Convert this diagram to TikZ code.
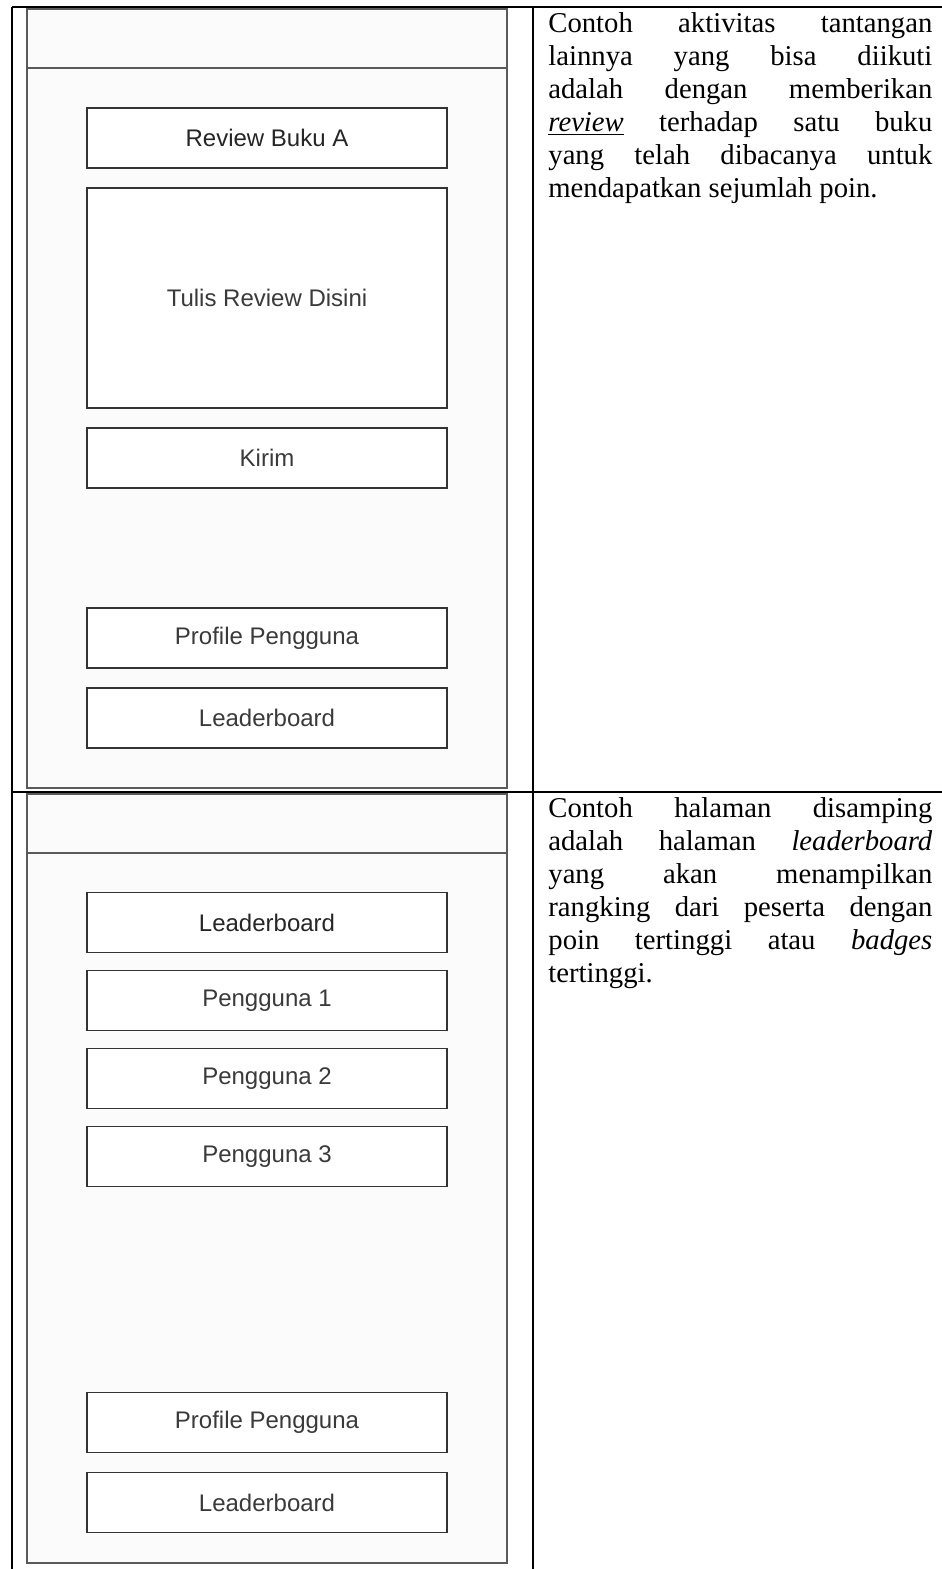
\documentclass[tikz,border=0pt]{standalone}
\usepackage{fontspec}
\setmainfont{Liberation Serif}
\newfontfamily\uifont{Liberation Sans}
\usetikzlibrary{positioning}

\definecolor{uiline}{HTML}{333333}
\definecolor{uitext}{HTML}{3A3A3A}
\definecolor{uiframe}{HTML}{5A5A5A}
\definecolor{uiback}{HTML}{FBFBFB}

\begin{document}
\begin{tikzpicture}[
x=0.5pt, y=-0.5pt,
node distance=10pt,
screen/.style={draw=uiframe, fill=uiback, line width=0.6pt},
uibox/.style={draw=uiline, fill=white, line width=0.8pt, minimum width=180pt, minimum height=30pt, inner sep=0pt, outer sep=0pt, font=\uifont\fontsize{12}{14}\selectfont, text=uitext},
uititle/.style={uibox, text=black!85},
rule/.style={line width=0.9pt},
desc/.style={anchor=base west, inner sep=0pt, text width=192pt, align=justify, font=\fontsize{14.35}{16.5}\selectfont,
  execute at begin node={\tolerance=9999 \hyphenpenalty=10000 }}
]
\useasboundingbox (0,0) rectangle (942,1569);

% table
\draw[rule] (12,7) -- (942,7);
\draw[rule] (12,792) -- (942,792);
\draw[rule] (12,7) -- (12,1569);
\draw[rule] (533,7) -- (533,1569);

% screen 1: review
\draw[screen] (27,9) rectangle (507,788);
\draw[uiframe, line width=0.6pt] (27,68) -- (507,68);
\node[uititle] (review) at (267,138) {Review Buku A};
\node[uibox, below=of review, minimum height=110pt] (tulis) {Tulis Review Disini};
\node[uibox, below=of tulis] (kirim) {Kirim};
\node[uibox, below=60pt of kirim] (profilA) {Profile Pengguna};
\node[uibox, below=of profilA] (leaderA) {Leaderboard};

% screen 2: leaderboard
\draw[screen] (27,794) rectangle (507,1563);
\draw[uiframe, line width=0.6pt] (27,853) -- (507,853);
\node[uititle] (board) at (267,922.5) {Leaderboard};
\node[uibox, below=9pt of board] (user1) {Pengguna 1};
\node[uibox, below=9pt of user1] (user2) {Pengguna 2};
\node[uibox, below=9pt of user2] (user3) {Pengguna 3};
\node[uibox, below=103pt of user3] (profilB) {Profile Pengguna};
\node[uibox, below=of profilB] (leaderB) {Leaderboard};

% keterangan
\node[desc] (descA) at (548,32) {Contoh aktivitas tantangan\linebreak lainnya yang bisa diikuti\linebreak adalah dengan memberikan\linebreak \underline{\textit{review}} terhadap satu buku\linebreak yang telah dibacanya untuk\linebreak mendapatkan sejumlah poin.};
\node[desc] (descB) at (548,817) {Contoh halaman disamping\linebreak adalah halaman \textit{leaderboard}\linebreak yang akan menampilkan\linebreak rangking dari peserta dengan\linebreak poin tertinggi atau \textit{badges}\linebreak tertinggi.};
\end{tikzpicture}
\end{document}
